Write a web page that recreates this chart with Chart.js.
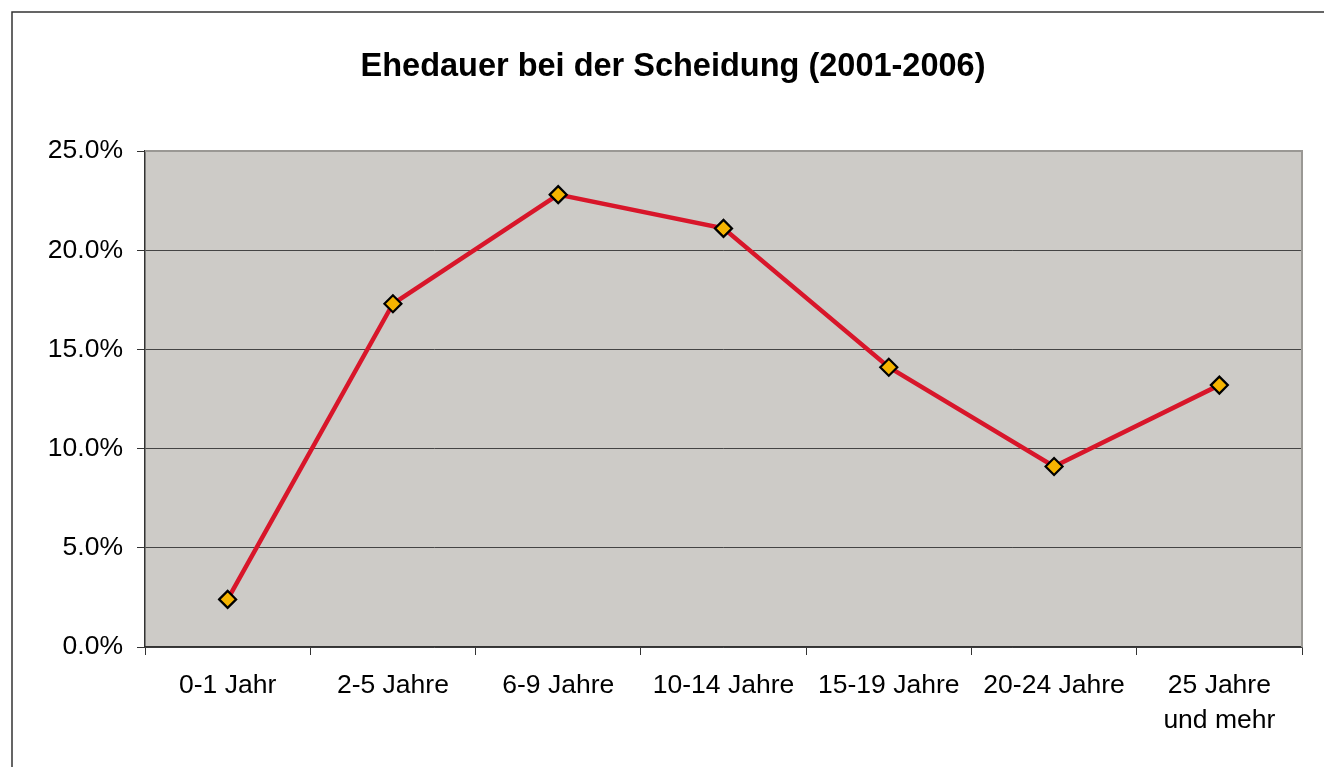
<!DOCTYPE html>
<html>
<head>
<meta charset="utf-8">
<script src="https://cdn.jsdelivr.net/npm/chart.js@4/dist/chart.umd.min.js"></script>
<style>
  html, body { margin: 0; padding: 0; background: #fff; }
  #wrap { width: 1324px; height: 767px; position: relative; }
</style>
</head>
<body>
<div id="wrap"><canvas id="c" width="1324" height="767"></canvas></div>
<script>
const titleText = 'Ehedauer bei der Scheidung (2001-2006)';
const categories = ['0-1 Jahr', '2-5 Jahre', '6-9 Jahre', '10-14 Jahre', '15-19 Jahre', '20-24 Jahre', ['25 Jahre', 'und mehr']];
const shares = [2.4, 17.3, 22.8, 21.1, 14.1, 9.1, 13.2];
const yMin = 0, yMax = 25, yStep = 5;

const FONT = "'Liberation Sans', Arial, sans-serif";

const framePlugin = {
  id: 'frame',
  beforeDraw(chart) {
    const ctx = chart.ctx, a = chart.chartArea;
    ctx.save();
    ctx.fillStyle = '#ffffff';
    ctx.fillRect(0, 0, chart.width, chart.height);
    ctx.strokeStyle = '#333333';
    ctx.lineWidth = 1.5;
    ctx.strokeRect(12, 12, chart.width + 20, chart.height + 20);
    ctx.fillStyle = '#cdcbc7';
    ctx.fillRect(a.left, a.top, a.right - a.left, a.bottom - a.top);
    ctx.restore();
  },
  beforeDatasetsDraw(chart) {
    const ctx = chart.ctx, a = chart.chartArea;
    ctx.save();
    ctx.strokeStyle = '#9a9894';
    ctx.lineWidth = 2;
    ctx.beginPath();
    ctx.moveTo(a.left, a.top);
    ctx.lineTo(a.right, a.top);
    ctx.lineTo(a.right, a.bottom);
    ctx.stroke();
    ctx.restore();
  }
};

new Chart(document.getElementById('c'), {
  type: 'line',
  data: {
    labels: categories,
    datasets: [{
      data: shares,
      borderColor: '#d8162a',
      borderWidth: 4.5,
      tension: 0,
      pointStyle: 'rectRot',
      pointRadius: 8.5,
      pointHoverRadius: 8.5,
      pointBackgroundColor: '#f5b400',
      pointBorderColor: '#000000',
      pointBorderWidth: 2.2
    }, {
      data: [],
      yAxisID: 'yr'
    }]
  },
  options: {
    responsive: false,
    animation: false,
    layout: { padding: { left: 22, right: 0, top: 0, bottom: 0 } },
    plugins: {
      legend: { display: false },
      tooltip: { enabled: false },
      title: {
        display: true,
        text: titleText,
        color: '#000000',
        font: { family: FONT, size: 32.5, weight: 'bold', lineHeight: 1.2 },
        padding: { top: 48, bottom: 64 }
      }
    },
    scales: {
      x: {
        offset: true,
        grid: { offset: true, drawOnChartArea: false, tickLength: 8, color: '#333333', lineWidth: 1 },
        border: { color: '#333333', width: 1.5 },
        ticks: {
          color: '#000000',
          font: { family: FONT, size: 26.5, lineHeight: 1.32 },
          padding: 13,
          maxRotation: 0,
          autoSkip: false
        },
        afterFit(scale) { scale.height = 120; }
      },
      y: {
        min: yMin, max: yMax,
        grid: { color: '#444444', lineWidth: 1, tickLength: 8, tickColor: '#333333' },
        border: { color: '#333333', width: 1.5 },
        ticks: {
          stepSize: yStep,
          color: '#000000',
          font: { family: FONT, size: 26.5 },
          padding: 14,
          callback: v => v.toFixed(1) + '%'
        },
        afterFit(scale) { scale.width = 123; }
      },
      yr: {
        position: 'right',
        display: true,
        min: yMin, max: yMax,
        grid: { display: false, drawTicks: false },
        border: { display: false },
        ticks: { display: false },
        afterFit(scale) { scale.width = 22; }
      }
    }
  },
  plugins: [framePlugin]
});
</script>
</body>
</html>
